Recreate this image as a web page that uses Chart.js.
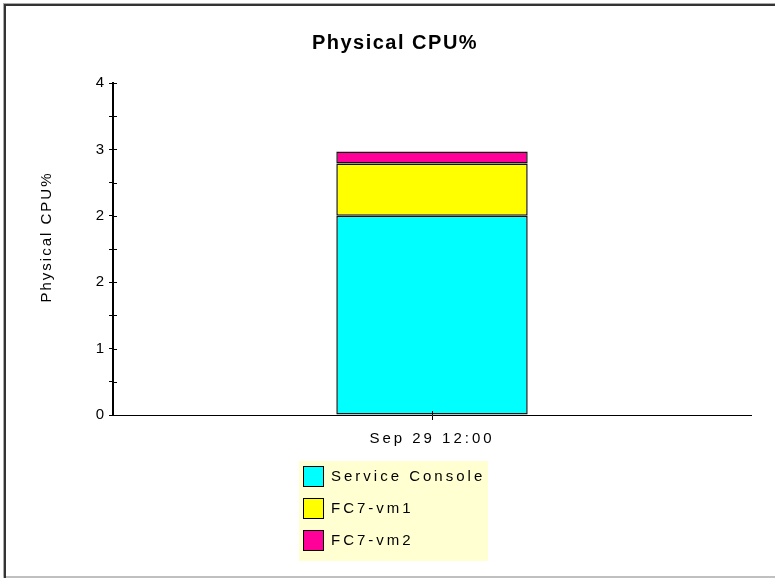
<!DOCTYPE html>
<html>
<head>
<meta charset="utf-8">
<script src="https://cdn.jsdelivr.net/npm/chart.js@4"></script>
<style>
    html, body { margin: 0; padding: 0; background: #fff; overflow: hidden; }
    .frame {
        position: absolute; left: 3px; top: 3px; width: 800px; height: 572px;
        border-top: 1px solid #aaa; border-left: 1px solid #aaa; border-bottom: 2px solid #c0c0c0;
    }
    .frame-inner { width: 100%; height: 100%; border-top: 2px solid #333; border-left: 2px solid #333; }
    .chart-box { position: absolute; left: 0; top: 0; width: 775px; height: 579px; }
</style>
</head>
<body>
<div class="frame"><div class="frame-inner"></div></div>
<div class="chart-box"><canvas id="cpuChart" width="775" height="579"></canvas></div>
<script>
const chartTitle = 'Physical CPU%';
const yAxisTitle = 'Physical CPU%';
const categories = ['Sep 29 12:00'];
const seriesNames = ['Service Console', 'FC7-vm1', 'FC7-vm2'];
const serviceConsole = [2.4];
const fc7Vm1 = [0.63];
const fc7Vm2 = [0.145];
const seriesColors = ['#00ffff', '#ffff00', '#ff0099'];
const yMax = 4;
const yStep = 0.4;
const yTickLabels = ['0', '', '1', '', '2', '', '2', '', '3', '', '4'];

const FONT = "'Liberation Sans', Arial, sans-serif";

// title, y title, legend and the inner halves of the axis ticks
const decorPlugin = {
    id: 'decor',
    beforeDraw(chart) {
        chart.ctx.letterSpacing = '3px';
    },
    afterDraw(chart) {
        const ctx = chart.ctx;
        const area = chart.chartArea;
        const yScale = chart.scales.y;
        const xScale = chart.scales.x;

        ctx.save();
        ctx.strokeStyle = '#000';
        ctx.lineWidth = 1;
        yScale.ticks.forEach(function(t) {
            const py = Math.round(yScale.getPixelForValue(t.value)) + 0.5;
            ctx.beginPath();
            ctx.moveTo(area.left, py);
            ctx.lineTo(area.left + 4, py);
            ctx.stroke();
        });
        xScale.ticks.forEach(function(t, i) {
            const px = Math.round(xScale.getPixelForTick(i)) + 0.5;
            ctx.beginPath();
            ctx.moveTo(px, area.bottom - 4);
            ctx.lineTo(px, area.bottom);
            ctx.stroke();
        });

        ctx.fillStyle = '#000';
        ctx.textAlign = 'center';
        ctx.textBaseline = 'middle';

        // title
        ctx.letterSpacing = '1.5px';
        ctx.font = 'bold 20px ' + FONT;
        ctx.fillText(chartTitle, 395, 43);

        // y axis title
        ctx.save();
        ctx.translate(47, 238);
        ctx.rotate(-Math.PI / 2);
        ctx.letterSpacing = '2px';
        ctx.font = '15px ' + FONT;
        ctx.fillText(yAxisTitle, 1, 0);
        ctx.restore();

        // legend
        ctx.fillStyle = '#ffffd2';
        ctx.fillRect(299, 461, 189, 100);
        ctx.letterSpacing = '3px';
        ctx.font = '15px ' + FONT;
        ctx.textAlign = 'left';
        chart.data.datasets.forEach(function(ds, i) {
            const top = 466 + i * 32;
            ctx.fillStyle = ds.backgroundColor;
            ctx.fillRect(303.5, top + 0.5, 20, 20);
            ctx.strokeStyle = '#000';
            ctx.strokeRect(303.5, top + 0.5, 20, 20);
            ctx.fillStyle = '#000';
            ctx.fillText(ds.label, 331, top + 11);
        });
        ctx.restore();
    }
};

const ctx = document.getElementById('cpuChart').getContext('2d');
new Chart(ctx, {
    type: 'bar',
    data: {
        labels: categories,
        datasets: [
            { label: seriesNames[0], data: serviceConsole, backgroundColor: seriesColors[0] },
            { label: seriesNames[1], data: fc7Vm1, backgroundColor: seriesColors[1] },
            { label: seriesNames[2], data: fc7Vm2, backgroundColor: seriesColors[2] }
        ]
    },
    options: {
        responsive: false,
        animation: false,
        layout: { padding: { top: 83, right: 24, bottom: 0, left: 0 } },
        datasets: {
            bar: {
                categoryPercentage: 1,
                barPercentage: 0.3,
                borderWidth: 1.5,
                borderColor: '#111',
                borderSkipped: false
            }
        },
        plugins: {
            legend: { display: false },
            title: { display: false },
            tooltip: { enabled: false }
        },
        scales: {
            x: {
                stacked: true,
                afterFit: function(scale) { scale.height = 164; },
                grid: { display: true, drawOnChartArea: false, offset: false, tickLength: 5, color: '#000', tickColor: '#000' },
                border: { display: true, color: '#000', width: 1 },
                ticks: { color: '#000', font: { family: FONT, size: 15 }, padding: 10, maxRotation: 0 }
            },
            y: {
                stacked: true,
                min: 0,
                max: yMax,
                afterFit: function(scale) { scale.width = 113; },
                grid: { display: true, drawOnChartArea: false, tickLength: 4, color: '#000', tickColor: '#000' },
                border: { display: true, color: '#000', width: 2 },
                ticks: {
                    stepSize: yStep,
                    autoSkip: false,
                    color: '#000',
                    font: { family: FONT, size: 15 },
                    padding: 2,
                    callback: function(v, i) { return yTickLabels[i]; }
                }
            }
        }
    },
    plugins: [decorPlugin]
});
</script>
</body>
</html>
